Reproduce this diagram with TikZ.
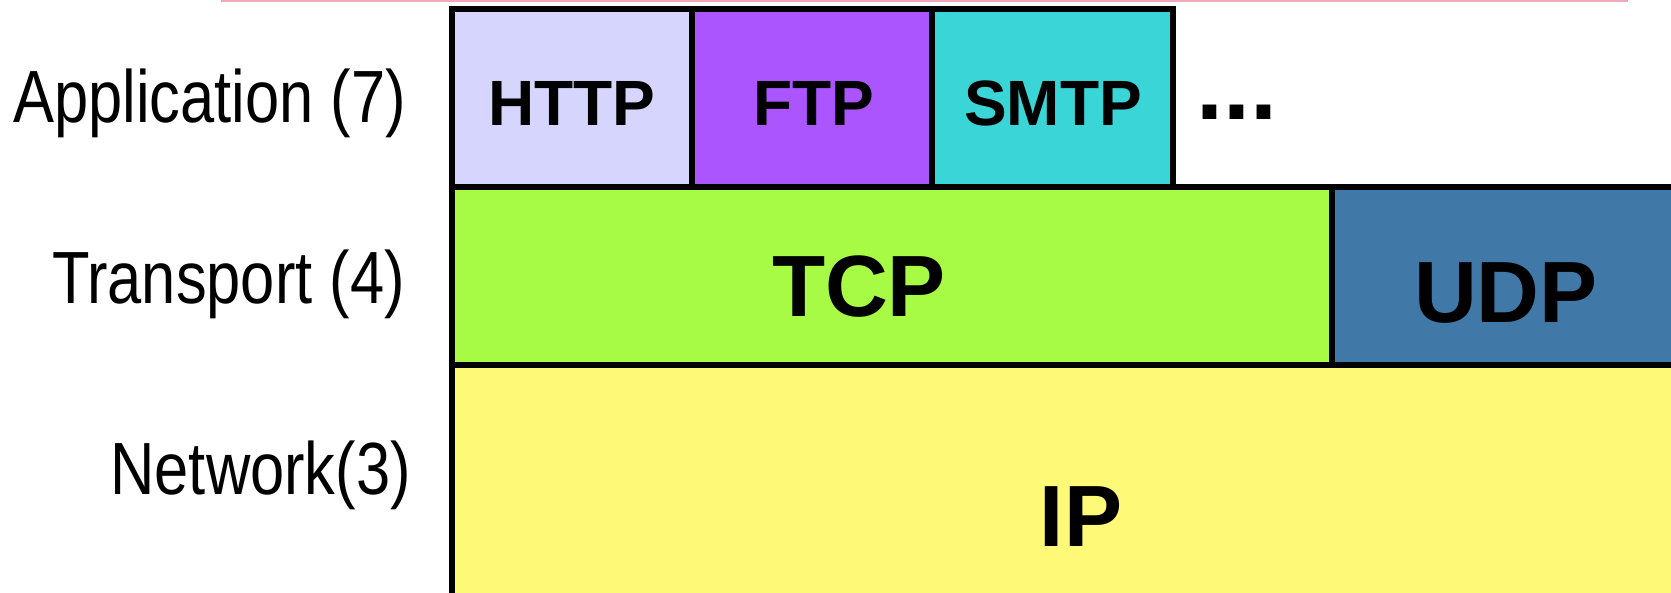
\documentclass[tikz,border=0pt]{standalone}
\usepackage{fontspec}
\setmainfont{Liberation Sans}
\newfontfamily\narrowfont[FakeStretch=0.83]{Liberation Sans}
\definecolor{httpc}{RGB}{213,213,253}
\definecolor{ftpc}{RGB}{170,85,255}
\definecolor{smtpc}{RGB}{58,213,214}
\definecolor{tcpc}{RGB}{168,251,68}
\definecolor{udpc}{RGB}{64,121,168}
\definecolor{ipc}{RGB}{254,250,120}
\definecolor{rulec}{RGB}{240,168,188}
\tikzset{
  cell/.style={draw=black, line width=6pt},
  layer/.style={inner sep=0pt, anchor=base east, font=\narrowfont\fontsize{74}{80}\selectfont},
  appproto/.style={inner sep=0pt, anchor=base, font=\bfseries\fontsize{64}{70}\selectfont},
  bigproto/.style={inner sep=0pt, anchor=base, font=\bfseries\fontsize{87}{95}\selectfont},
  toprule/.style={draw=rulec, line width=1.5pt}
}
\begin{document}
\begin{tikzpicture}[x=1pt, y=-1pt]
\useasboundingbox (0,0) rectangle (1671,593);
\clip (0,0) rectangle (1671,593);
% thin rule along the top
\coordinate (ruleL) at (221,0.8);
\coordinate (ruleR) at (1628,0.8);
\draw[toprule] (ruleL) -- (ruleR);
% protocol cells
\path[fill=httpc] (452,9) rectangle (692,187);
\path[fill=ftpc] (692,9) rectangle (932,187);
\path[fill=smtpc] (932,9) rectangle (1173,187);
\path[fill=tcpc] (452,187) rectangle (1332,365);
\path[fill=udpc] (1332,187) rectangle (1700,365);
\path[fill=ipc] (452,365) rectangle (1700,596);
\draw[cell] (452,9) rectangle (692,187);
\draw[cell] (692,9) rectangle (932,187);
\draw[cell] (932,9) rectangle (1173,187);
\draw[cell] (452,187) rectangle (1332,365);
\draw[cell] (1332,187) rectangle (1700,365);
\draw[cell] (452,365) rectangle (1700,596);
% layer names
\node[layer] (app) at (406,123) {Application (7)};
\node[layer] (trans) at (405,304) {Transport (4)};
\node[layer] (net) at (411,494) {Network(3)};
% protocol names
\node[appproto] (http) at (572,126) {HTTP};
\node[appproto] (ftp) at (814,126) {FTP};
\node[appproto] (smtp) at (1053,126) {SMTP};
\node[bigproto, anchor=base west, font=\bfseries\fontsize{97}{100}\selectfont] (more) at (1196,120) {...};
\node[bigproto] (tcp) at (859,317) {TCP};
\node[bigproto] (udp) at (1506,323) {UDP};
\node[bigproto] (ip) at (1081,546) {IP};
\end{tikzpicture}
\end{document}
